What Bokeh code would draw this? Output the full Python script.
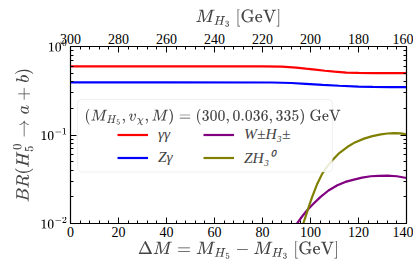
from bokeh.plotting import figure
from bokeh.models import (Range1d, LinearAxis, LogAxis, Legend, Label, FixedTicker,
                          TeX, BoxAnnotation)
from bokeh.embed import file_html
from bokeh.resources import INLINE

# ---- data ----
dm_gamgam = [0, 40, 80, 88, 94, 98, 102, 106, 110, 115, 120, 126, 133, 140]
br_gamgam = [0.595, 0.595, 0.595, 0.592, 0.578, 0.562, 0.547, 0.532, 0.519, 0.508, 0.503,
             0.500, 0.499, 0.499]
dm_zgam = [0, 40, 84, 92, 98, 105, 112, 120, 126, 133, 140]
br_zgam = [0.393, 0.393, 0.392, 0.387, 0.379, 0.369, 0.360, 0.352, 0.349, 0.348, 0.348]

dm_w = [94.4, 96.5, 98.6, 101, 104.2, 107.5, 111.2, 114.5, 118.1, 121.5, 125.1, 128.5,
        132.1, 136, 140]
br_wh3 = [0.0100, 0.0120, 0.0141, 0.0165, 0.0200, 0.0236, 0.0270, 0.0295, 0.0313, 0.0330,
          0.0342, 0.0346, 0.0348, 0.0342, 0.0327]

dm_z = [97.0, 98.2, 99.4, 100.7, 102.8, 104.9, 107.0, 109.1, 112.0, 115.3, 118.5, 122.3,
        125.8, 129.3, 132.0, 134.9, 137.5, 140]
br_zh3 = [0.0100, 0.0125, 0.0158, 0.0200, 0.0280, 0.0366, 0.0442, 0.0518, 0.0625, 0.0731,
          0.0825, 0.0910, 0.0970, 0.1016, 0.1040, 0.1050, 0.1045, 0.1016]

x_ticks = [0, 20, 40, 60, 80, 100, 120, 140]
top_ticks = [300, 280, 260, 240, 220, 200, 180, 160]
y_ticks = [0.01, 0.1, 1.0]
y_tick_labels = [r"10^{-2}", r"10^{-1}", r"10^{0}"]
y_minor = [m * d for d in (0.01, 0.1) for m in range(2, 10)]

SERIF = "Liberation Serif"

p = figure(width=413, height=273, x_range=Range1d(0, 140), y_range=Range1d(1e-2, 1),
           y_axis_type="log", output_backend="svg", toolbar_location=None,
           min_border_left=70, min_border_right=7, min_border_top=46, min_border_bottom=50)
p.grid.visible = False
p.outline_line_color = "black"
p.outline_line_width = 1.2

r1 = p.line(dm_gamgam, br_gamgam, color="red", line_width=2.2)
r2 = p.line(dm_zgam, br_zgam, color="blue", line_width=2.2)
r3 = p.line(dm_w, br_wh3, color="#800080", line_width=2.2)
r4 = p.line(dm_z, br_zh3, color="#808000", line_width=2.2)


def style(ax):
    ax.major_tick_in = 6
    ax.major_tick_out = 0
    ax.minor_tick_in = 3
    ax.minor_tick_out = 0
    ax.axis_line_color = "black"
    ax.major_label_text_font = SERIF
    ax.major_label_text_font_size = "14px"
    ax.major_label_text_color = "black"
    ax.axis_label_text_font = SERIF
    ax.axis_label_text_font_style = "normal"
    ax.axis_label_text_font_size = "17px"
    ax.major_label_standoff = 3


xa = p.xaxis[0]
xa.ticker = FixedTicker(ticks=x_ticks, minor_ticks=list(range(0, 141, 4)))
xa.axis_label = TeX(r"\Delta M = M_{H_5} - M_{H_3}\ [\mathrm{GeV}]")
style(xa)
xa.axis_label_standoff = 1

ya = p.yaxis[0]
ya.ticker = FixedTicker(ticks=y_ticks, minor_ticks=y_minor)
ya.major_label_overrides = {t: TeX(s) for t, s in zip(y_ticks, y_tick_labels)}
ya.axis_label = TeX(r"BR(H_5^0 \rightarrow a+b)")
style(ya)
ya.major_label_text_font_size = "12px"
ya.axis_label_standoff = 4

p.extra_x_ranges = {"mh3": Range1d(300, 160)}
ta = LinearAxis(x_range_name="mh3")
ta.ticker = FixedTicker(ticks=top_ticks, minor_ticks=list(range(160, 301, 4)))
ta.axis_label = TeX(r"M_{H_3}\ [\mathrm{GeV}]")
style(ta)
ta.axis_label_text_font_size = "17.5px"
ta.axis_label_standoff = 2
p.add_layout(ta, "above")

ra = LogAxis()
ra.ticker = FixedTicker(ticks=y_ticks, minor_ticks=y_minor)
ra.major_label_overrides = {t: "" for t in y_ticks}
style(ra)
ra.major_label_standoff = 0
ra.axis_label_standoff = 0
p.add_layout(ra, "right")

# legend frame
box = BoxAnnotation(left=2.9, right=109.1, top=0.252, bottom=0.0382,
                    fill_color="white", fill_alpha=0.85, line_color="#d0d0d0",
                    line_width=1, border_radius=4, level="annotation")
p.add_layout(box)

legend = Legend(items=[("γγ", [r1]), ("Zγ", [r2]), ("W±H₃±", [r3]), ("ZH₃⁰", [r4])],
                orientation="vertical", nrows=2, location=(47, 55))
legend.label_text_font = SERIF
legend.label_text_font_style = "italic"
legend.label_text_font_size = "15.5px"
legend.border_line_color = None
legend.background_fill_alpha = 0
legend.glyph_width = 31
legend.glyph_height = 13
legend.label_standoff = 10
legend.label_width = 42
legend.label_height = 13
legend.spacing = 3
legend.padding = 0
legend.margin = 0
legend.item_background_fill_alpha = 0
legend.level = "overlay"
p.add_layout(legend, "center")

title = Label(x=5.8, y=0.16,
              text=TeX(r"(M_{H_5}, v_\chi, M) = (300, 0.036, 335)\ \mathrm{GeV}"),
              text_font_size="12.3px", text_baseline="middle", text_align="left",
              level="overlay")
p.add_layout(title)

open("out.html", "w").write(file_html(p, INLINE))
